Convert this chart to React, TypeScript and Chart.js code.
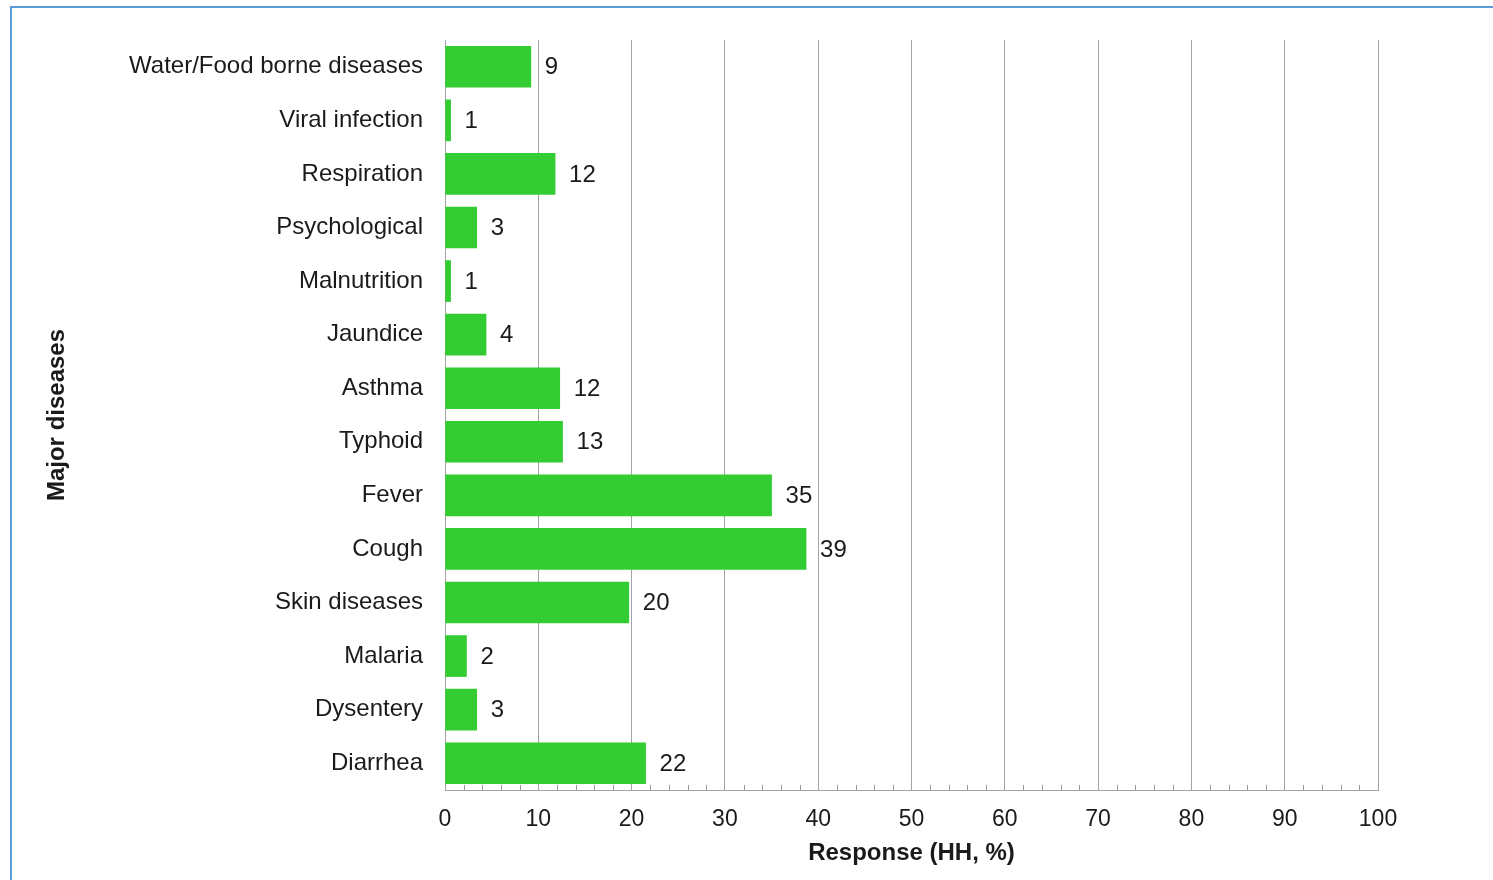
import React, { useEffect, useRef } from "react";
import { Chart, registerables } from "chart.js";

Chart.register(...registerables);

const categories = [
  "Water/Food borne diseases",
  "Viral infection",
  "Respiration",
  "Psychological",
  "Malnutrition",
  "Jaundice",
  "Asthma",
  "Typhoid",
  "Fever",
  "Cough",
  "Skin diseases",
  "Malaria",
  "Dysentery",
  "Diarrhea",
];
const responseValues = [9.2, 0.6, 11.8, 3.4, 0.6, 4.4, 12.3, 12.6, 35.0, 38.7, 19.7, 2.3, 3.4, 21.5];
const valueLabels = ["9", "1", "12", "3", "1", "4", "12", "13", "35", "39", "20", "2", "3", "22"];
const xMin = 0;
const xMax = 100;
const xMajorStep = 10;
const xMinorStep = 2;

const FONT = "'Liberation Sans', Arial, sans-serif";
const TEXT = "#1a1a1a";
const GRID = "#a3a3a3";

export default function App() {
  const ref = useRef<HTMLCanvasElement | null>(null);

  useEffect(() => {
    if (!ref.current) return;
    const labelPlugin = {
      id: "valueLabels",
      afterDatasetsDraw(chart: any) {
        const ctx = chart.ctx;
        const meta = chart.getDatasetMeta(0);
        ctx.save();
        ctx.font = `24px ${FONT}`;
        ctx.fillStyle = TEXT;
        ctx.textAlign = "left";
        ctx.textBaseline = "middle";
        meta.data.forEach((bar: any, i: number) => {
          ctx.fillText(valueLabels[i], bar.x + 14, bar.y + 1);
        });
        ctx.restore();
      },
    };
    const minorTicks = {
      id: "minorTicks",
      afterDraw(chart: any) {
        const ctx = chart.ctx;
        const sx = chart.scales.x;
        const bottom = chart.chartArea.bottom;
        ctx.save();
        ctx.strokeStyle = "#999999";
        ctx.lineWidth = 1;
        for (let v = xMin; v <= xMax; v += xMinorStep) {
          if (v % xMajorStep === 0) continue;
          const px = Math.round(sx.getPixelForValue(v)) + 0.5;
          ctx.beginPath();
          ctx.moveTo(px, bottom - 5);
          ctx.lineTo(px, bottom);
          ctx.stroke();
        }
        ctx.restore();
      },
    };
    const chart = new Chart(ref.current, {
      type: "bar",
      data: {
        labels: categories,
        datasets: [
          {
            data: responseValues,
            backgroundColor: "#33cc33",
            borderWidth: 0,
            barThickness: 41,
          },
        ],
      },
      options: {
        indexAxis: "y",
        animation: false,
        responsive: false,
        maintainAspectRatio: false,
        layout: { padding: { top: 40, right: 115, left: 40, bottom: 0 } },
        plugins: {
          legend: { display: false },
          tooltip: { enabled: false },
        },
        scales: {
          x: {
            min: xMin,
            max: xMax,
            ticks: {
              stepSize: xMajorStep,
              color: TEXT,
              font: { family: FONT, size: 23 },
              padding: 16,
            },
            grid: { color: GRID, drawTicks: false, lineWidth: 1 },
            border: { color: GRID, width: 1 },
            title: {
              display: true,
              text: "Response (HH, %)",
              color: TEXT,
              font: { family: FONT, size: 24, weight: "bold" },
              padding: { top: 0, bottom: 12 },
            },
            afterFit(scale: any) {
              scale.height = 90;
            },
          },
          y: {
            ticks: {
              color: TEXT,
              font: { family: FONT, size: 24 },
              padding: 22,
            },
            grid: { display: false, drawTicks: false },
            border: { color: GRID, width: 1 },
            title: {
              display: true,
              text: "Major diseases",
              color: TEXT,
              font: { family: FONT, size: 24, weight: "bold" },
              padding: { top: 3, bottom: 0 },
            },
            afterFit(scale: any) {
              scale.width = 405;
            },
          },
        },
      },
      plugins: [labelPlugin, minorTicks],
    } as any);
    return () => chart.destroy();
  }, []);

  return (
    <div style={{ position: "fixed", left: 0, top: 0, width: 1493, height: 880, overflow: "hidden", background: "#fff" }}>
      <div
        style={{
          position: "absolute",
          left: 10,
          top: 6,
          width: 2000,
          height: 2000,
          borderTop: "2px solid #5b9bd5",
          borderLeft: "2px solid #5b9bd5",
        }}
      />
      <canvas ref={ref} width={1493} height={880} style={{ position: "absolute", left: 0, top: 0, display: "block" }} />
    </div>
  );
}
